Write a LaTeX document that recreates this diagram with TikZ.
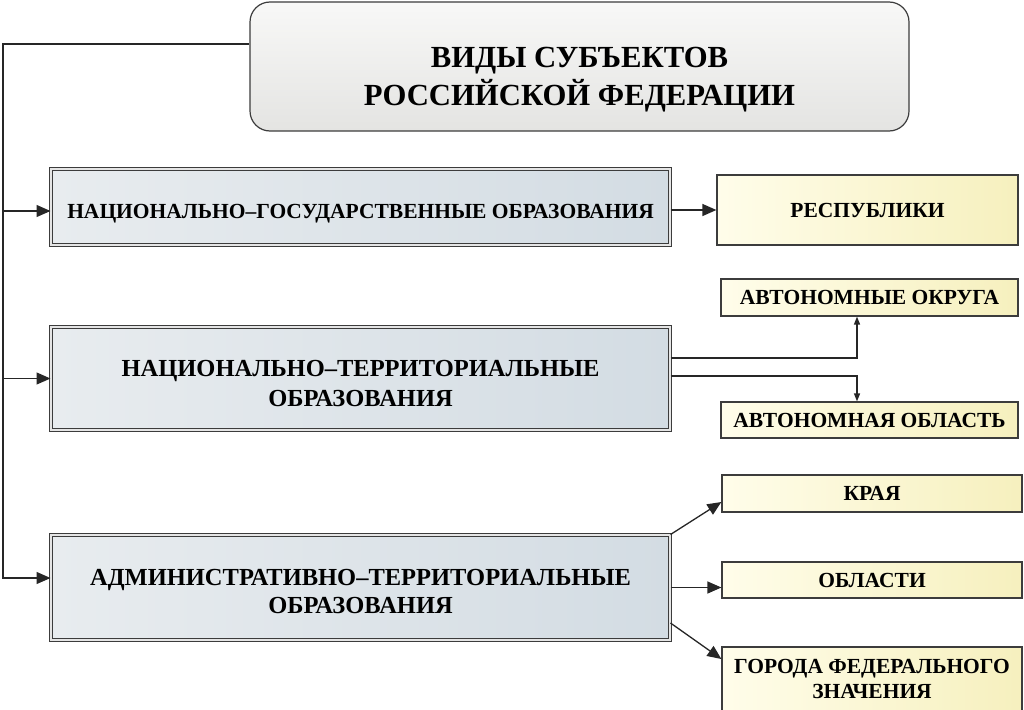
\documentclass[tikz,border=0pt]{standalone}
\usepackage{fontspec}
\setmainfont{Liberation Serif}
\usetikzlibrary{arrows.meta}

\definecolor{edge}{HTML}{3C3C3C}
\definecolor{kindleft}{HTML}{E8ECEF}
\definecolor{kindright}{HTML}{D3DCE3}
\definecolor{formleft}{HTML}{FFFDEA}
\definecolor{formright}{HTML}{F6F0BE}
\definecolor{headtop}{HTML}{F8F8F7}
\definecolor{headbottom}{HTML}{E4E4E2}

\begin{document}
\begin{tikzpicture}[x=1pt,y=-1pt,
  head/.style={draw=edge, line width=1.2pt, rounded corners=20pt, top color=headtop, bottom color=headbottom,
    align=center, inner sep=0pt, text height=77pt, text depth=0pt, font=\bfseries\fontsize{30.7}{38}\selectfont},
  kind/.style={draw=edge, line width=1pt, double=white!80!gray, double distance=2.5pt,
    left color=kindleft, right color=kindright, align=center, inner sep=0pt, minimum width=619pt},
  form/.style={draw=edge, line width=1.2pt, left color=formleft, right color=formright,
    align=center, inner sep=0pt, font=\bfseries\fontsize{21.5}{25}\selectfont},
  link/.style={line width=1.3pt, draw=black!85, -{Triangle[length=14pt,width=12pt]}},
  tiny/.style={line width=1.3pt, draw=black!85, -{Triangle[length=8pt,width=6pt]}}]

\useasboundingbox (0,0) rectangle (1024,709);

\node[head, minimum width=659pt, minimum height=129pt] (title) at (579.5,66.5) {ВИДЫ СУБЪЕКТОВ\\РОССИЙСКОЙ ФЕДЕРАЦИИ};

\node[kind, minimum height=76pt, text height=22pt, text depth=0pt, font=\bfseries\fontsize{21.5}{25}\selectfont] (ng) at (360.5,207) {НАЦИОНАЛЬНО–ГОСУДАРСТВЕННЫЕ ОБРАЗОВАНИЯ};
\node[kind, minimum height=103pt, text height=55pt, text depth=0pt, font=\bfseries\fontsize{24.5}{30}\selectfont] (nt) at (360.5,378.5) {НАЦИОНАЛЬНО–ТЕРРИТОРИАЛЬНЫЕ\\ОБРАЗОВАНИЯ};
\node[kind, minimum height=105pt, text height=51pt, text depth=0pt, font=\bfseries\fontsize{24.5}{28}\selectfont] (at) at (360.5,587.5) {АДМИНИСТРАТИВНО–ТЕРРИТОРИАЛЬНЫЕ\\ОБРАЗОВАНИЯ};

\node[form, minimum width=301pt, minimum height=70pt] (resp) at (867.5,210) {РЕСПУБЛИКИ};
\node[form, minimum width=297pt, minimum height=37pt] (okr) at (869.5,297.5) {АВТОНОМНЫЕ ОКРУГА};
\node[form, minimum width=297pt, minimum height=36pt] (obl) at (869.5,420) {АВТОНОМНАЯ ОБЛАСТЬ};
\node[form, minimum width=300pt, minimum height=37pt] (kraya) at (872,493.5) {КРАЯ};
\node[form, minimum width=300pt, minimum height=36pt] (oblasti) at (872,580) {ОБЛАСТИ};
\node[form, minimum width=300pt, minimum height=64pt] (goroda) at (872,679) {ГОРОДА ФЕДЕРАЛЬНОГО\\ЗНАЧЕНИЯ};

% left bus
\coordinate (bus) at (3,44);
\draw[link] (title.west |- bus) -- (bus) |- ([yshift=9.5pt]at.west);
\draw[link] ([yshift=-4pt]bus |- ng.west) -- ([yshift=-4pt]ng.west);
\draw[link] (bus |- nt.west) -- (nt.west);

% branches
\draw[link] (ng.east |- resp.west) -- (resp.west);
\draw[tiny] ([yshift=20.5pt]nt.east) -| ([xshift=-12.5pt]okr.south);
\draw[tiny] ([yshift=2.5pt]nt.east) -| ([xshift=-12.5pt]obl.north);
\draw[link] (at.north east) -- ([yshift=-8.5pt]kraya.west);
\draw[link] (at.east) -- (at.east -| oblasti.west);
\draw[link] ([yshift=-35.5pt]at.east) -- ([yshift=20pt]goroda.west);

\end{tikzpicture}
\end{document}
